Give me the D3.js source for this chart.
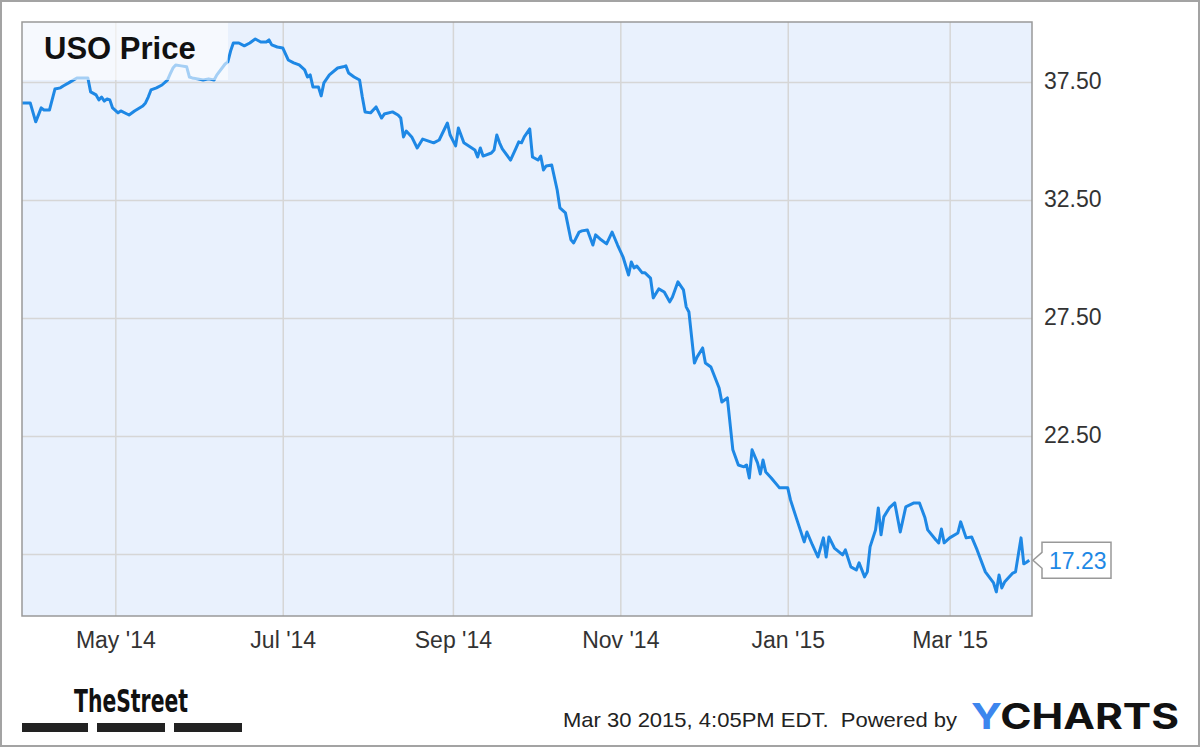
<!DOCTYPE html>
<html>
<head>
<meta charset="utf-8">
<script src="https://cdn.jsdelivr.net/npm/d3@7"></script>
<style>
  body { margin: 0; background: #fff; }
  svg { display: block; font-family: "Liberation Sans", Arial, sans-serif; }
</style>
</head>
<body>
<svg id="chart" width="1200" height="747"></svg>
<script>
// USO daily close
const dates = [
  "2014-03-28","2014-03-31","2014-04-02","2014-04-04","2014-04-05","2014-04-07","2014-04-09","2014-04-11",
  "2014-04-12","2014-04-14","2014-04-17","2014-04-20","2014-04-21","2014-04-22","2014-04-24","2014-04-25",
  "2014-04-26","2014-04-27","2014-04-28","2014-04-29","2014-04-30","2014-05-02","2014-05-03","2014-05-06",
  "2014-05-08","2014-05-11","2014-05-12","2014-05-13","2014-05-14","2014-05-16","2014-05-18","2014-05-20",
  "2014-05-21","2014-05-22","2014-05-23","2014-05-25","2014-05-27","2014-05-28","2014-05-29","2014-05-31",
  "2014-06-02","2014-06-04","2014-06-06","2014-06-07","2014-06-10","2014-06-11","2014-06-12","2014-06-13",
  "2014-06-15","2014-06-17","2014-06-19","2014-06-21","2014-06-23","2014-06-25","2014-06-26","2014-06-27",
  "2014-06-29","2014-07-01","2014-07-03","2014-07-05","2014-07-07","2014-07-09","2014-07-10","2014-07-11",
  "2014-07-12","2014-07-14","2014-07-15","2014-07-16","2014-07-18","2014-07-21","2014-07-23","2014-07-24",
  "2014-07-25","2014-07-27","2014-07-29","2014-07-30","2014-07-31","2014-08-02","2014-08-04","2014-08-06",
  "2014-08-07","2014-08-10","2014-08-12","2014-08-13","2014-08-14","2014-08-15","2014-08-17","2014-08-19",
  "2014-08-21","2014-08-25","2014-08-27","2014-08-30","2014-08-31","2014-09-02","2014-09-03","2014-09-05",
  "2014-09-09","2014-09-10","2014-09-11","2014-09-12","2014-09-15","2014-09-16","2014-09-17","2014-09-18",
  "2014-09-19","2014-09-22","2014-09-24","2014-09-25","2014-09-26","2014-09-27","2014-09-29","2014-09-30",
  "2014-10-02","2014-10-03","2014-10-04","2014-10-05","2014-10-07","2014-10-09","2014-10-10","2014-10-12",
  "2014-10-14","2014-10-15","2014-10-17","2014-10-18","2014-10-20","2014-10-22","2014-10-23","2014-10-25",
  "2014-10-27","2014-10-29","2014-10-31","2014-11-02","2014-11-04","2014-11-05","2014-11-06","2014-11-07",
  "2014-11-09","2014-11-10","2014-11-12","2014-11-13","2014-11-15","2014-11-17","2014-11-19","2014-11-20",
  "2014-11-22","2014-11-24","2014-11-25","2014-11-26","2014-11-28","2014-11-29","2014-12-01","2014-12-02",
  "2014-12-04","2014-12-07","2014-12-08","2014-12-10","2014-12-12","2014-12-14","2014-12-16","2014-12-17",
  "2014-12-18","2014-12-19","2014-12-21","2014-12-22","2014-12-23","2014-12-24","2014-12-26","2014-12-29",
  "2015-01-01","2015-01-02","2015-01-04","2015-01-07","2015-01-08","2015-01-10","2015-01-12","2015-01-14",
  "2015-01-15","2015-01-16","2015-01-18","2015-01-21","2015-01-22","2015-01-24","2015-01-26","2015-01-27",
  "2015-01-29","2015-01-30","2015-01-31","2015-02-02","2015-02-03","2015-02-04","2015-02-05","2015-02-07",
  "2015-02-09","2015-02-11","2015-02-13","2015-02-16","2015-02-18","2015-02-20","2015-02-21","2015-02-24",
  "2015-02-25","2015-02-26","2015-02-27","2015-03-01","2015-03-04","2015-03-05","2015-03-07","2015-03-09",
  "2015-03-11","2015-03-14","2015-03-17","2015-03-18","2015-03-19","2015-03-20","2015-03-21","2015-03-24",
  "2015-03-25","2015-03-27","2015-03-28","2015-03-29","2015-03-30"
];
const prices = [
  36.61,36.61,35.81,36.40,36.31,36.31,37.20,37.25,
  37.33,37.46,37.67,37.67,37.67,37.08,36.95,36.74,
  36.86,36.69,36.78,36.74,36.40,36.19,36.27,36.10,
  36.27,36.48,36.61,36.86,37.16,37.25,37.37,37.58,
  37.84,38.09,38.22,38.18,38.14,37.71,37.67,37.63,
  37.58,37.63,37.58,37.80,38.26,38.35,38.81,39.15,
  39.15,39.03,39.15,39.32,39.19,39.19,39.28,39.07,
  38.98,38.94,38.43,38.31,38.22,38.01,37.71,37.80,
  37.29,37.29,36.91,37.46,37.80,38.09,38.14,38.18,
  37.88,37.71,37.58,36.86,36.23,36.19,36.44,35.97,
  36.14,36.23,36.10,35.97,35.17,35.42,35.17,34.70,
  35.08,34.92,35.04,35.76,35.25,34.79,35.55,34.92,
  34.62,34.32,34.70,34.36,34.49,34.62,35.25,34.92,
  34.66,34.19,34.70,34.96,34.92,35.17,35.51,34.32,
  34.19,34.36,33.77,33.94,33.98,32.92,32.16,31.95,
  30.81,30.68,31.14,31.19,31.23,30.59,31.02,30.81,
  30.64,31.14,30.59,30.08,29.32,29.87,29.62,29.70,
  29.41,29.41,29.19,28.35,28.73,28.60,28.18,28.39,
  29.03,28.69,27.97,27.75,25.59,25.85,26.23,25.59,
  25.42,24.53,23.94,24.11,21.91,21.27,21.19,21.27,
  20.72,21.91,21.36,20.89,21.48,20.97,20.72,20.30,
  20.30,19.79,19.07,18.01,18.43,17.88,17.37,18.18,
  17.37,18.22,17.75,17.46,17.67,16.95,16.82,17.12,
  16.53,16.74,17.80,18.52,19.45,18.31,19.07,19.45,
  19.66,18.43,19.49,19.66,19.66,19.03,18.52,18.09,
  17.97,18.56,17.97,18.18,18.39,18.86,18.18,18.22,
  17.67,16.74,16.27,15.89,16.61,16.06,16.31,16.69,
  16.74,18.18,17.08,17.15,17.23
];

// axis ticks
const yTicks = [17.5, 22.5, 27.5, 32.5, 37.5];
const xTicks = ["2014-05-01", "2014-07-01", "2014-09-01", "2014-11-01", "2015-01-01", "2015-03-01"];
const xDomain = ["2014-03-28", "2015-03-31"];
const yDomain = [14.87, 40.04];

const titleText = "USO Price";
const stampText = "Mar 30 2015, 4:05PM EDT.  Powered by";

const svg = d3.select('#chart');
const W = 1200, H = 747;
const plot = {left: 22, top: 22, right: 1032, bottom: 616};

const parse = d3.timeParse('%Y-%m-%d');
const data = dates.map((d, i) => ({date: parse(d), value: prices[i]}));

const x = d3.scaleTime()
  .domain(xDomain.map(parse))
  .range([plot.left, plot.right]);
const y = d3.scaleLinear()
  .domain(yDomain)
  .range([plot.bottom, plot.top]);

// outer frame
svg.append('rect')
  .attr('x', 1).attr('y', 1)
  .attr('width', W - 2).attr('height', H - 2)
  .attr('fill', '#fff')
  .attr('stroke', '#a3a3a3')
  .attr('stroke-width', 2);

// plot background
svg.append('rect')
  .attr('x', plot.left).attr('y', plot.top)
  .attr('width', plot.right - plot.left).attr('height', plot.bottom - plot.top)
  .attr('fill', '#e9f1fd');

// horizontal grid
const gridY = svg.append('g')
  .attr('transform', `translate(${plot.left},0)`)
  .call(d3.axisRight(y).tickValues(yTicks).tickSize(plot.right - plot.left).tickFormat(''));
gridY.select('.domain').remove();
gridY.selectAll('line').attr('stroke', '#d6d6d6').attr('stroke-width', 1.5);

// vertical grid
const gridX = svg.append('g')
  .attr('transform', `translate(0,${plot.top})`)
  .call(d3.axisBottom(x).tickValues(xTicks.map(parse)).tickSize(plot.bottom - plot.top).tickFormat(''));
gridX.select('.domain').remove();
gridX.selectAll('line').attr('stroke', '#d6d6d6').attr('stroke-width', 1.5);

// clip for line
svg.append('clipPath').attr('id', 'plotClip')
  .append('rect')
  .attr('x', plot.left).attr('y', plot.top)
  .attr('width', plot.right - plot.left).attr('height', plot.bottom - plot.top);

const line = d3.line()
  .x(d => x(d.date))
  .y(d => y(d.value));

svg.append('path')
  .datum(data)
  .attr('clip-path', 'url(#plotClip)')
  .attr('fill', 'none')
  .attr('stroke', '#1e88e5')
  .attr('stroke-width', 3)
  .attr('stroke-linejoin', 'round')
  .attr('d', line);

// title box (translucent, line shows through)
svg.append('rect')
  .attr('x', plot.left).attr('y', plot.top)
  .attr('width', 206).attr('height', 58)
  .attr('fill', '#fff')
  .attr('fill-opacity', 0.6);
svg.append('text')
  .attr('x', 44).attr('y', 59)
  .attr('font-size', 31)
  .attr('font-weight', 'bold')
  .attr('fill', '#111')
  .text(titleText);

// plot border
svg.append('rect')
  .attr('x', plot.left).attr('y', plot.top)
  .attr('width', plot.right - plot.left).attr('height', plot.bottom - plot.top)
  .attr('fill', 'none')
  .attr('stroke', '#999')
  .attr('stroke-width', 1.5);

// y axis labels (right)
const last = data[data.length - 1];
const yAxis = svg.append('g')
  .attr('transform', `translate(${plot.right},0)`)
  .call(d3.axisRight(y)
    .tickValues(yTicks.filter(t => Math.abs(t - last.value) > 1))
    .tickFormat(d3.format('.2f'))
    .tickSize(0)
    .tickPadding(12));
yAxis.select('.domain').remove();
yAxis.selectAll('text')
  .attr('font-size', 23)
  .attr('font-family', '"Liberation Sans", Arial, sans-serif')
  .attr('fill', '#333')
  .attr('dy', '0.3em');

// x axis labels
const xAxis = svg.append('g')
  .attr('transform', `translate(0,${plot.bottom})`)
  .call(d3.axisBottom(x)
    .tickValues(xTicks.map(parse))
    .tickFormat(d3.timeFormat("%b '%y"))
    .tickSize(0)
    .tickPadding(16));
xAxis.select('.domain').remove();
xAxis.selectAll('text')
  .attr('font-size', 23)
  .attr('font-family', '"Liberation Sans", Arial, sans-serif')
  .attr('fill', '#333')
  .attr('dy', '0.71em');

// last value callout
const ly = y(last.value);
const bx = plot.right + 10, bw = 69, bh = 36;
svg.append('path')
  .attr('d', `M${plot.right + 1},${ly} L${bx},${ly - 8} L${bx},${ly - bh / 2} L${bx + bw},${ly - bh / 2} ` +
             `L${bx + bw},${ly + bh / 2} L${bx},${ly + bh / 2} L${bx},${ly + 8} Z`)
  .attr('fill', '#fff')
  .attr('stroke', '#999')
  .attr('stroke-width', 1.5);
svg.append('text')
  .attr('x', bx + 7).attr('y', ly + 8.5)
  .attr('font-size', 23)
  .attr('fill', '#1e88e5')
  .text(d3.format('.2f')(last.value));

// footer: TheStreet logo
svg.append('text')
  .attr('x', 74).attr('y', 712)
  .attr('font-size', 32)
  .attr('font-weight', 'bold')
  .attr('font-family', '"Liberation Sans Narrow", "DejaVu Sans Condensed", sans-serif')
  .attr('textLength', 114)
  .attr('lengthAdjust', 'spacingAndGlyphs')
  .attr('fill', '#111')
  .text('TheStreet');
[[22, 88], [97, 165], [174, 242]].forEach(b => {
  svg.append('rect')
    .attr('x', b[0]).attr('y', 723)
    .attr('width', b[1] - b[0]).attr('height', 9)
    .attr('fill', '#222');
});

// footer: timestamp + YCharts
svg.append('text')
  .attr('x', 563).attr('y', 727)
  .attr('font-size', 21)
  .attr('fill', '#222')
  .attr('textLength', 394)
  .attr('lengthAdjust', 'spacingAndGlyphs')
  .attr('xml:space', 'preserve')
  .text(stampText);
const yc = svg.append('text')
  .attr('x', 971).attr('y', 729)
  .attr('font-size', 35)
  .attr('font-weight', 'bold')
  .attr('font-family', 'Inter, "Open Sans", sans-serif')
  .attr('textLength', 208)
  .attr('lengthAdjust', 'spacingAndGlyphs');
yc.append('tspan').attr('fill', '#3d86ee').text('Y');
yc.append('tspan').attr('fill', '#111').text('CHARTS');
</script>
</body>
</html>
